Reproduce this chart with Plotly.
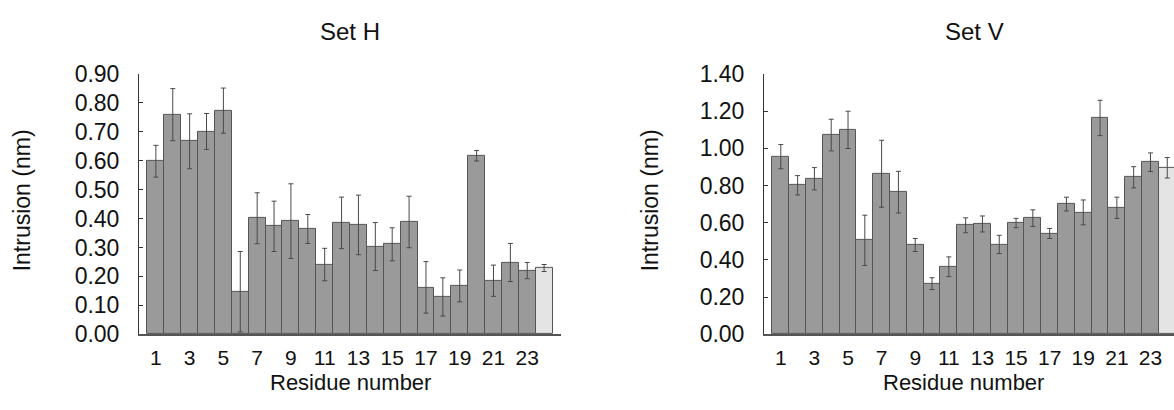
import plotly.graph_objects as go

residues = list(range(1, 25))
tick_vals = list(range(1, 24, 2))

set_h = [0.598, 0.759, 0.667, 0.701, 0.773, 0.147, 0.401, 0.373, 0.391, 0.364,
         0.241, 0.385, 0.378, 0.303, 0.311, 0.388, 0.162, 0.129, 0.167, 0.617,
         0.185, 0.248, 0.220, 0.229]
set_h_err = [0.055, 0.090, 0.095, 0.062, 0.078, 0.139, 0.088, 0.087, 0.129, 0.050,
             0.056, 0.089, 0.103, 0.083, 0.057, 0.089, 0.089, 0.066, 0.055, 0.018,
             0.054, 0.066, 0.028, 0.012]

set_v = [0.955, 0.801, 0.836, 1.071, 1.099, 0.505, 0.863, 0.764, 0.480, 0.272,
         0.363, 0.586, 0.593, 0.483, 0.598, 0.624, 0.542, 0.700, 0.655, 1.163,
         0.680, 0.844, 0.925, 0.895]
set_v_err = [0.065, 0.052, 0.060, 0.085, 0.100, 0.135, 0.180, 0.112, 0.035, 0.032,
             0.053, 0.040, 0.043, 0.049, 0.025, 0.045, 0.027, 0.037, 0.067, 0.095,
             0.057, 0.057, 0.050, 0.055]

DARK = "#9a9a9a"
LIGHT = "#e4e4e4"
colors = [DARK] * 23 + [LIGHT]

W, H = 1174, 410
FONT = "Liberation Sans, Arial, Helvetica, sans-serif"

fig = go.Figure()

for vals, errs, xa, ya in [(set_h, set_h_err, "x", "y"), (set_v, set_v_err, "x2", "y2")]:
    fig.add_trace(go.Bar(
        x=residues, y=vals, xaxis=xa, yaxis=ya,
        marker=dict(color=colors, line=dict(color="#555555", width=1)),
        error_y=dict(type="data", array=errs, visible=True, color="#4a4a4a",
                     thickness=1, width=2.5),
        width=1.0, showlegend=False,
    ))

def px(v):
    return v / W

def py(v):
    return 1 - v / H

ydom = [py(343), py(65)]

yfont = dict(family=FONT, size=23, color="#111111")
xfont = dict(family=FONT, size=21, color="#111111")

fig.update_layout(
    width=W, height=H,
    margin=dict(l=0, r=0, t=0, b=0),
    paper_bgcolor="white", plot_bgcolor="white",
    bargap=0,
    font=dict(family=FONT, color="#111111"),
    xaxis=dict(domain=[px(139), px(561)], range=[0, 25], tickvals=tick_vals,
               ticks="", showline=True, linecolor="#555555", linewidth=2,
               showgrid=False, zeroline=False, tickfont=xfont,
               ticklabelstandoff=4, anchor="y"),
    yaxis=dict(domain=ydom, range=[0, 0.9], dtick=0.1, tickformat=".2f",
               ticks="inside", ticklen=4, tickcolor="#333333",
               showline=True, linecolor="#333333", linewidth=1,
               showgrid=False, zeroline=False, tickfont=yfont,
               ticklabelstandoff=14, anchor="x"),
    xaxis2=dict(domain=[px(764), 1.0], range=[0, 24.4], tickvals=tick_vals,
                ticks="", showline=True, linecolor="#555555", linewidth=2,
                showgrid=False, zeroline=False, tickfont=xfont,
                ticklabelstandoff=4, anchor="y2"),
    yaxis2=dict(domain=ydom, range=[0, 1.4], dtick=0.2, tickformat=".2f",
                ticks="inside", ticklen=4, tickcolor="#333333",
                showline=True, linecolor="#333333", linewidth=1,
                showgrid=False, zeroline=False, tickfont=yfont,
                ticklabelstandoff=14, anchor="x2"),
)

ann_font = dict(family=FONT, size=23, color="#111111")
res_font = dict(family=FONT, size=22, color="#111111")
title_font = dict(family=FONT, size=24, color="#111111")
annotations = [
    dict(text="Set H", x=px(350), y=py(20), font=title_font),
    dict(text="Set V", x=px(974), y=py(20), font=title_font),
    dict(text="Residue number", x=px(350), y=py(395), font=res_font),
    dict(text="Residue number", x=px(963), y=py(395), font=res_font),
    dict(text="Intrusion (nm)", x=px(22), y=py(200), textangle=-90, font=ann_font),
    dict(text="Intrusion (nm)", x=px(650), y=py(200), textangle=-90, font=ann_font),
]
for a in annotations:
    fig.add_annotation(xref="paper", yref="paper", showarrow=False,
                       xanchor="center", yanchor="middle", **a)

fig.write_html("out.html")
